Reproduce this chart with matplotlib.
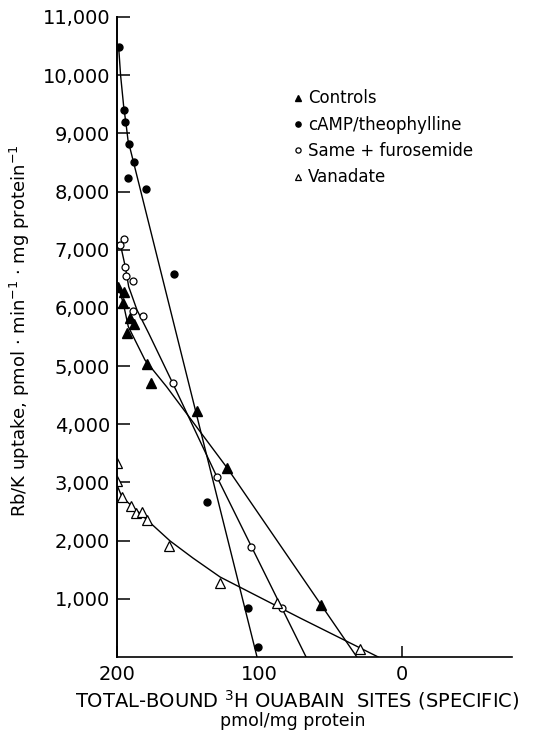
import matplotlib
matplotlib.use("Agg")
import matplotlib.pyplot as plt

# measured points (x = bound ouabain sites, y = Rb/K uptake)
controls_x = [199.1, 195.1, 196.0, 190.9, 188.1, 192.8, 178.7, 176.4, 143.7, 122.6, 57.1]
controls_y = [6355, 6270, 6080, 5830, 5715, 5575, 5035, 4715, 4230, 3240, 894]

camp_x = [198.4, 195.1, 194.4, 191.6, 187.9, 192.5, 179.6, 160.0, 136.6, 107.9, 101.3]
camp_y = [10480, 9400, 9195, 8820, 8510, 8230, 8040, 6580, 2670, 848, 177]

furo_x = [195.1, 197.9, 194.4, 193.9, 188.6, 189.0, 181.5, 161.0, 129.7, 106.2, 84.4]
furo_y = [7185, 7080, 6710, 6555, 6460, 5950, 5860, 4715, 3090, 1885, 837]

vana_x = [199.8, 199.8, 196.7, 190.4, 186.7, 182.3, 179.2, 163.4, 127.7, 88.0, 29.5]
vana_y = [3340, 3030, 2745, 2595, 2470, 2490, 2355, 1915, 1265, 920, 138]

# hand-drawn fitted curves
controls_fit_x = [199.1, 195.6, 192.1, 180.4, 165.2, 122.6, 31.8]
controls_fit_y = [6365, 6080, 5680, 5105, 4645, 3245, 0]

camp_fit_x = [198.8, 197.5, 195.3, 193.6, 192.3, 101.8]
camp_fit_y = [10467, 10003, 9458, 9150, 8886, 0]

furo_fit_x = [198.0, 196.8, 194.2, 191.8, 186.0, 177.8, 161.4, 129.7, 67.4]
furo_fit_y = [7110, 7000, 6710, 6365, 5965, 5565, 4730, 3085, 0]

vana_fit_x = [200.0, 196.5, 178.9, 162.8, 146.7, 127.7, 71.6, 16.8]
vana_fit_y = [2955, 2750, 2355, 1995, 1700, 1375, 670, 0]

ytick_vals = [1000, 2000, 3000, 4000, 5000, 6000, 7000, 8000, 9000, 10000, 11000]
ytick_labels = ["1,000", "2,000", "3,000", "4,000", "5,000", "6,000",
                "7,000", "8,000", "9,000", "10,000", "11,000"]
xtick_vals = [200, 100, 0]
xtick_labels = ["200", "100", "0"]

plt.rcParams["font.family"] = ["DejaVu Sans"]

fig = plt.figure(figsize=(5.38, 7.38), dpi=100)
ax = fig.add_axes([117 / 538, 1 - 657 / 738, 395 / 538, 640 / 738])

lw = 1.0
ax.plot(controls_fit_x, controls_fit_y, color="black", lw=lw)
ax.plot(camp_fit_x, camp_fit_y, color="black", lw=lw)
ax.plot(furo_fit_x, furo_fit_y, color="black", lw=lw)
ax.plot(vana_fit_x, vana_fit_y, color="black", lw=lw)

h1, = ax.plot(controls_x, controls_y, "^", color="black", ms=6.5, ls="none",
              label="Controls")
h2, = ax.plot(camp_x, camp_y, "o", color="black", ms=5, ls="none",
              label="cAMP/theophylline")
h3, = ax.plot(furo_x, furo_y, "o", mfc="white", mec="black", mew=0.9, ms=5,
              ls="none", label="Same + furosemide")
h4, = ax.plot(vana_x, vana_y, "^", mfc="white", mec="black", mew=0.9, ms=6.5,
              ls="none", label="Vanadate")

ax.set_xlim(200, -77)
ax.set_ylim(0, 11000)

for s in ["top", "right"]:
    ax.spines[s].set_visible(False)
ax.spines["left"].set_linewidth(1.4)
ax.spines["bottom"].set_linewidth(1.2)

ax.set_yticks(ytick_vals)
ax.set_yticklabels(ytick_labels)
ax.set_xticks(xtick_vals)
ax.set_xticklabels(xtick_labels)
ax.tick_params(axis="y", direction="in", length=9, width=1.1, labelsize=14, pad=5)
ax.tick_params(axis="x", direction="in", length=8, width=1.1, labelsize=14, pad=6)
# the tick at 100 is covered by the data in the original
ax.xaxis.get_major_ticks()[1].tick1line.set_visible(False)

ax.set_ylabel(r"Rb/K uptake, pmol $\cdot$ min$^{-1}$ $\cdot$ mg protein$^{-1}$",
              fontsize=13)
ax.yaxis.set_label_coords(-0.215, 0.51)
ax.set_xlabel("TOTAL-BOUND $^{3}$H OUABAIN  SITES (SPECIFIC)", fontsize=14)
ax.xaxis.set_label_coords(0.456, -0.049)
ax.text(0.445, -0.1, "pmol/mg protein", transform=ax.transAxes,
        ha="center", va="center", fontsize=12.5)

ax.legend(handles=[h1, h2, h3, h4], loc="upper left",
          bbox_to_anchor=(0.425, 0.9), frameon=False, fontsize=12,
          handlelength=0.6, handletextpad=0.3, borderpad=0, labelspacing=0.5,
          markerscale=0.75)

fig.savefig("out.png", dpi=100)
